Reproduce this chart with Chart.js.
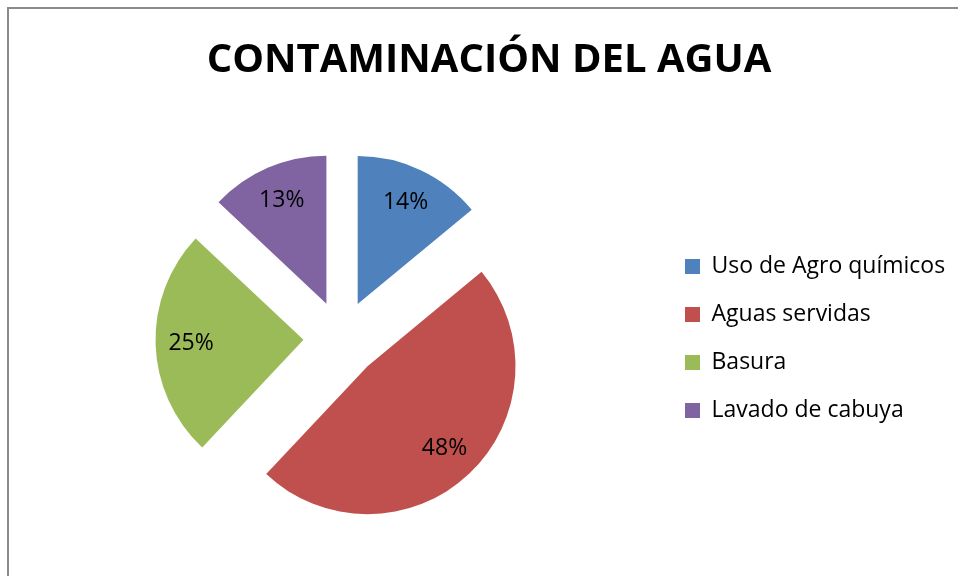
<!DOCTYPE html>
<html>
<head>
<meta charset="utf-8">
<script src="https://cdn.jsdelivr.net/npm/chart.js@4"></script>
<style>
    html, body { margin: 0; padding: 0; background: #ffffff; overflow: hidden; }
    #marco {
        position: absolute;
        left: 7px;
        top: 7px;
        width: 1000px;
        height: 1000px;
        border-left: 2px solid #8a8a8a;
        border-top: 2px solid #8a8a8a;
    }
    #grafico { position: absolute; left: 0; top: 0; }
</style>
</head>
<body>
<div id="marco"></div>
<canvas id="grafico" width="958" height="576"></canvas>
<script>
// datos del grafico
const categorias = ['Uso de Agro químicos', 'Aguas servidas', 'Basura', 'Lavado de cabuya'];
const porcentajes = [14, 48, 25, 13];
const colores = ['#4F81BD', '#C0504D', '#9BBB59', '#8064A2'];
const titulo = 'CONTAMINACIÓN DEL AGUA';

const fuenteTexto = "'Open Sans', Lato, sans-serif";
const separacion = 38;

// separa cada porcion del centro (pie "explotado")
const separarPorciones = {
    id: 'separarPorciones',
    afterDatasetUpdate(chart, args) {
        const meta = chart.getDatasetMeta(args.index);
        meta.data.forEach(arc => {
            const medio = (arc.startAngle + arc.endAngle) / 2;
            arc.x += Math.cos(medio) * separacion;
            arc.y += Math.sin(medio) * separacion;
        });
    }
};

// etiquetas de porcentaje dentro de cada porcion
const etiquetasPorcentaje = {
    id: 'etiquetasPorcentaje',
    afterDatasetsDraw(chart) {
        const ctx = chart.ctx;
        const meta = chart.getDatasetMeta(0);
        const total = porcentajes.reduce((a, b) => a + b, 0);
        ctx.save();
        ctx.font = `23px ${fuenteTexto}`;
        ctx.fillStyle = '#000000';
        ctx.textAlign = 'center';
        ctx.textBaseline = 'middle';
        meta.data.forEach((arc, i) => {
            const medio = (arc.startAngle + arc.endAngle) / 2;
            const r = arc.outerRadius * 0.76;
            const texto = Math.round(porcentajes[i] / total * 100) + '%';
            ctx.fillText(texto, arc.x + Math.cos(medio) * r, arc.y + Math.sin(medio) * r);
        });
        ctx.restore();
    }
};

new Chart(document.getElementById('grafico'), {
    type: 'pie',
    data: {
        labels: categorias,
        datasets: [{
            data: porcentajes,
            backgroundColor: colores,
            borderWidth: 0
        }]
    },
    options: {
        responsive: false,
        animation: false,
        events: [],
        radius: 148,
        layout: {
            padding: { top: 0, bottom: 0, left: 23, right: 3 }
        },
        plugins: {
            title: {
                display: true,
                text: titulo,
                color: '#000000',
                font: { family: fuenteTexto, size: 40, weight: 'bold' },
                padding: { top: 37, bottom: 16 }
            },
            legend: {
                position: 'right',
                fullSize: false,
                maxWidth: 295,
                labels: {
                    color: '#000000',
                    font: { family: fuenteTexto, size: 23 },
                    boxWidth: 15,
                    boxHeight: 15,
                    padding: 25
                }
            },
            tooltip: { enabled: false }
        }
    },
    plugins: [separarPorciones, etiquetasPorcentaje]
});
</script>
</body>
</html>
